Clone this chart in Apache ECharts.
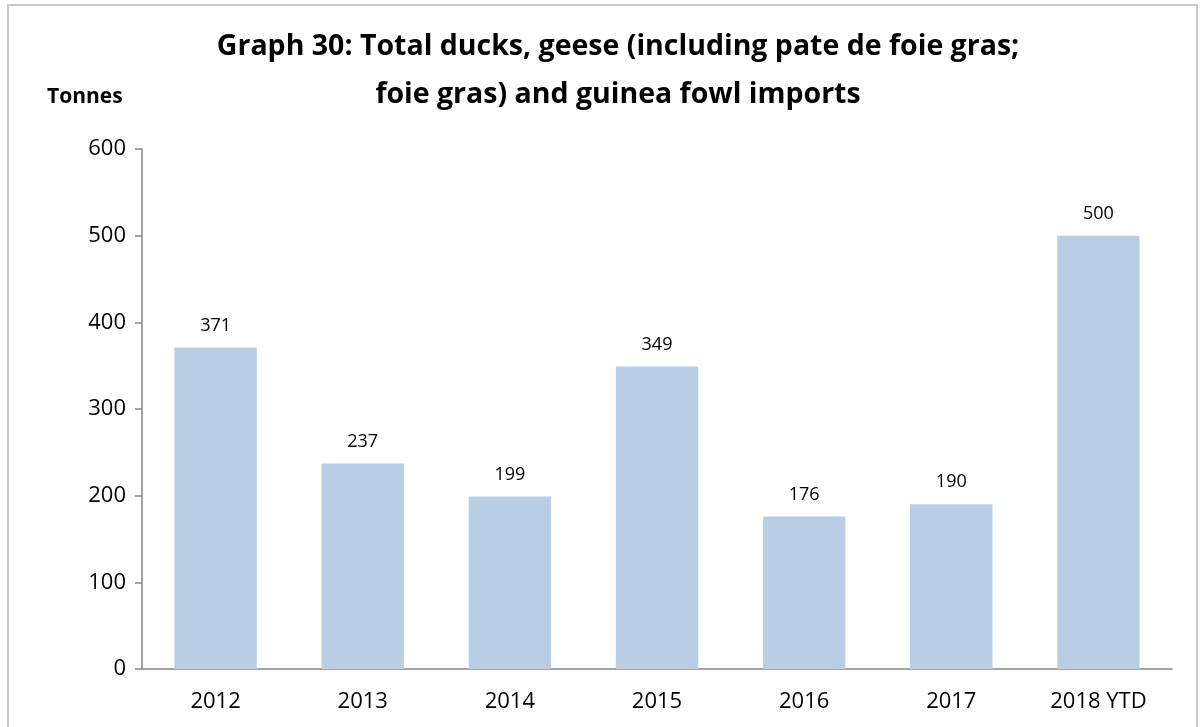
<!DOCTYPE html>
<html><head><meta charset="utf-8">
<script src="https://cdn.jsdelivr.net/npm/echarts@6/dist/echarts.min.js"></script>
<style>html,body{margin:0;padding:0;background:#fff}#c{width:1203px;height:727px}
#frame{position:absolute;left:7px;top:4px;width:1191px;height:740px;border:2px solid #c8c8c8;box-sizing:border-box;pointer-events:none}</style>
</head><body><div id="c"></div><div id="frame"></div>
<script>
const categories = ["2012","2013","2014","2015","2016","2017","2018 YTD"];
const values = [371,237,199,349,176,190,500];
const yTicks = {min:0,max:600,interval:100};
const FONT = "'Open Sans', 'Liberation Sans', sans-serif";
const chart = echarts.init(document.getElementById('c'));
chart.setOption({
  animation:false,
  backgroundColor:'#fff',
  title:{text:'Graph 30: Total ducks, geese (including pate de foie gras;\nfoie gras) and guinea fowl imports',
    left:613, top:18, textAlign:'center',
    textStyle:{fontFamily:FONT,fontSize:28.5,fontWeight:'bold',color:'#000',lineHeight:48}},
  graphic:[{type:'text',left:47,top:87,style:{text:'Tonnes',font:"bold 21px 'Open Sans', 'Liberation Sans', sans-serif",fill:'#000'}}],
  grid:{left:142,right:31,top:149,bottom:58},
  xAxis:{type:'category',data:categories,
    axisLine:{lineStyle:{color:'#868686',width:1.5}},
    axisTick:{show:false},
    axisLabel:{fontFamily:FONT,fontSize:22,color:'#000',margin:22}},
  yAxis:{type:'value',min:yTicks.min,max:yTicks.max,interval:yTicks.interval,
    axisLine:{show:true,lineStyle:{color:'#868686',width:1.5}},
    axisTick:{show:true,length:7,lineStyle:{color:'#868686',width:1.5}},
    splitLine:{show:false},
    axisLabel:{fontFamily:FONT,fontSize:22,color:'#000',margin:16}},
  series:[{type:'bar',data:values,barWidth:'56%',
    itemStyle:{color:'#B9CDE5'},
    label:{show:true,position:'top',distance:13,fontFamily:FONT,fontSize:18,color:'#000'}}]
});
</script></body></html>
